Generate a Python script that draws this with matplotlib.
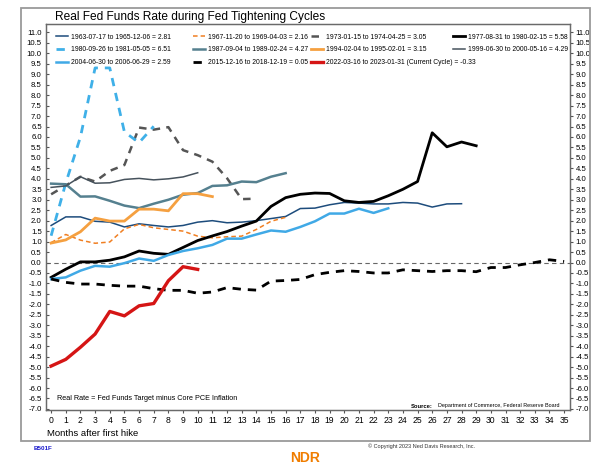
import numpy as np
import matplotlib
matplotlib.use('Agg')
from matplotlib import pyplot as plt
from matplotlib.patches import Rectangle

plt.rcParams['font.family'] = ['Liberation Sans', 'DejaVu Sans']

# real fed funds rate, month 0 = first hike
s1963 = [1.77, 2.18, 2.18, 1.97, 1.93, 1.70, 1.85, 1.77, 1.70, 1.77, 1.93, 2.00, 1.90, 1.93, 2.00,
         2.10, 2.20, 2.58, 2.60, 2.76, 2.87, 2.84, 2.80, 2.80, 2.87, 2.84, 2.65, 2.80, 2.81]
s1967 = [0.95, 1.34, 1.07, 0.92, 0.98, 1.61, 1.82, 1.66, 1.58, 1.50, 1.26, 1.18, 1.23, 1.26, 1.58,
         1.97, 2.16]
s1973 = [3.26, 3.68, 4.10, 3.87, 4.38, 4.66, 6.45, 6.35, 6.47, 5.37, 5.13, 4.82, 4.03, 3.03, 3.05]
s1977 = [-0.71, -0.32, 0.03, 0.03, 0.11, 0.27, 0.55, 0.44, 0.39, 0.72, 1.05, 1.27, 1.48, 1.74, 1.98,
         2.68, 3.10, 3.26, 3.32, 3.30, 2.95, 2.87, 2.92, 3.19, 3.50, 3.87, 6.20, 5.53, 5.76, 5.58]
s1980 = [1.28, 3.80, 6.00, 9.30, 9.30, 6.24, 5.73, 6.51]
s1987 = [3.77, 3.74, 3.15, 3.16, 2.95, 2.72, 2.60, 2.81, 3.00, 3.24, 3.32, 3.66, 3.69, 3.87, 3.84,
         4.10, 4.27]
s1994 = [0.93, 1.08, 1.47, 2.12, 1.98, 1.98, 2.55, 2.55, 2.47, 3.29, 3.29, 3.15]
s1999 = [3.59, 3.66, 4.10, 3.79, 3.81, 3.97, 4.02, 3.95, 4.00, 4.09, 4.29]
s2004 = [-0.79, -0.71, -0.39, -0.16, -0.20, -0.03, 0.19, 0.08, 0.36, 0.55, 0.68, 0.84, 1.14, 1.14,
         1.34, 1.53, 1.47, 1.70, 1.97, 2.34, 2.34, 2.57, 2.37, 2.59]
s2015 = [-0.79, -0.95, -1.03, -1.03, -1.09, -1.13, -1.13, -1.25, -1.33, -1.33, -1.47, -1.41, -1.20,
         -1.28, -1.32, -0.89, -0.86, -0.81, -0.58, -0.47, -0.39, -0.43, -0.50, -0.50, -0.35, -0.39,
         -0.43, -0.39, -0.39, -0.44, -0.24, -0.24, -0.11, 0.00, 0.13, 0.05]
s2022 = [-4.95, -4.63, -4.05, -3.42, -2.34, -2.55, -2.07, -1.96, -0.87, -0.20, -0.33]

labels = ['1963-07-17 to 1965-12-06 = 2.81',
          '1967-11-20 to 1969-04-03 = 2.16',
          '1973-01-15 to 1974-04-25 = 3.05',
          '1977-08-31 to 1980-02-15 = 5.58',
          '1980-09-26 to 1981-05-05 = 6.51',
          '1987-09-04 to 1989-02-24 = 4.27',
          '1994-02-04 to 1995-02-01 = 3.15',
          '1999-06-30 to 2000-05-16 = 4.29',
          '2004-06-30 to 2006-06-29 = 2.59',
          '2015-12-16 to 2018-12-19 = 0.05',
          '2022-03-16 to 2023-01-31 (Current Cycle) = -0.33']
series = [s1963, s1967, s1973, s1977, s1980, s1987, s1994, s1999, s2004, s2015, s2022]
styles = [('#1d4c7c', '-', 1.1),
          ('#f07f22', (0, (3, 2)), 1.1),
          ('#555555', (0, (3, 2.5)), 1.8),
          ('#000000', '-', 2.0),
          ('#3fb0e8', (0, (3, 2.5)), 2.0),
          ('#55808f', '-', 1.8),
          ('#f5a040', '-', 2.0),
          ('#46525c', '-', 1.1),
          ('#40a9e6', '-', 1.8),
          ('#000000', (0, (3, 2.5)), 2.0),
          ('#d51515', '-', 2.4)]

fig = plt.figure(figsize=(6, 4.72), dpi=100)
fig.patches.append(Rectangle((21/600, 1-441/472), 569/600, 433/472, transform=fig.transFigure,
                             fill=False, ec='#9a9a9a', lw=1.3))
ax = fig.add_axes([46/600, 1-410/472, 524/600, 386/472])

handles = []
for s, lab, (c, ls, lw) in zip(series, labels, styles):
    ln, = ax.plot(np.arange(len(s)), s, color=c, ls=ls, lw=lw, label=lab)
    handles.append(ln)
ax.axhline(0, color='#666666', lw=0.8, ls=(0, (4, 3)), zorder=0)

ax.set_xlim(-0.35, 35.4)
ax.set_ylim(-7.05, 11.4)
yt = np.arange(-7, 11.01, 0.5)
ax.set_xticks(range(36))
ax.set_yticks(yt)
ax.set_yticklabels(['%.1f' % v for v in yt])
ax.tick_params(axis='y', direction='in', length=2, labelsize=5.6, pad=3, color='#555555')
ax.tick_params(axis='x', direction='out', length=2, labelsize=6.2, pad=2, color='#555555')
ax2 = ax.twinx()
ax2.set_ylim(ax.get_ylim())
ax2.set_yticks(yt)
ax2.set_yticklabels(['%.1f' % v for v in yt])
ax2.tick_params(axis='y', direction='out', length=2, labelsize=5.6, pad=2, color='#555555')
for a in (ax, ax2):
    for sp in a.spines.values():
        sp.set_color('#6a6a6a')
        sp.set_linewidth(0.9)

# legend laid out as four separate columns
cols = [[0, 4, 8], [1, 5, 9], [2, 6, 10], [3, 7]]
colx = [56, 193, 311, 453]
for k, (idx, xpx) in enumerate(zip(cols, colx)):
    lg = ax2.legend([handles[i] for i in idx], [labels[i] for i in idx], ncol=1,
                    loc='upper left', bbox_to_anchor=((xpx-46)/524, 0.975), frameon=False,
                    fontsize=4.9, handlelength=1.7, handletextpad=0.45, labelspacing=0.85,
                    borderpad=0, borderaxespad=0)
    if k < len(cols) - 1:
        ax2.add_artist(lg)

fig.text(55/600, 1-17/472, 'Real Fed Funds Rate during Fed Tightening Cycles', fontsize=8.6,
         va='center', ha='left')
fig.text(57/600, 1-398/472, 'Real Rate = Fed Funds Target minus Core PCE Inflation',
         fontsize=5.2, va='center')
fig.text(411/600, 1-406/472, 'Source:', fontsize=4.2, fontweight='bold', va='center', ha='left')
fig.text(560/600, 1-406/472, 'Department of Commerce, Federal Reserve Board',
         fontsize=3.9, va='center', ha='right')
fig.text(47/600, 1-434/472, 'Months after first hike', fontsize=6.8, va='center')
fig.text(34/600, 1-448/472, 'B501F', fontsize=4.5, color='#1a1acc', va='center',
         fontweight='bold')
fig.text(290/600, 1-458/472, 'NDR', fontsize=10, color='#f07d00', fontweight='bold', va='center')
fig.text(368/600, 1-446/472, '\u00a9 Copyright 2023 Ned Davis Research, Inc.', fontsize=4,
         va='center', color='#333333')

fig.savefig('out.png', dpi=100)
